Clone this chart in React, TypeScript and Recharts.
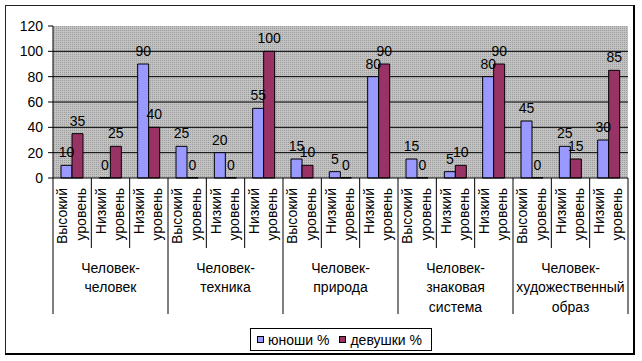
import React from 'react';
import { BarChart, Bar, XAxis, YAxis, CartesianGrid, LabelList, Legend } from 'recharts';

const groupLabels: string[][] = [
  ['Человек-', 'человек'],
  ['Человек-', 'техника'],
  ['Человек-', 'природа'],
  ['Человек-', 'знаковая', 'система'],
  ['Человек-', 'художественный', 'образ'],
];
const levelLabels: string[][] = [
  ['Высокий', 'уровень'],
  ['Низкий', 'уровень'],
  ['Низкий', 'уровень'],
];
const boys = [10, 0, 90, 25, 20, 55, 15, 5, 80, 15, 5, 80, 45, 25, 30];
const girls = [35, 25, 40, 0, 0, 100, 10, 0, 90, 0, 10, 90, 0, 15, 85];
const seriesNames = ['юноши %', 'девушки %'];
const yTicks = [0, 20, 40, 60, 80, 100, 120];
const gridValues = [20, 40, 60, 80, 100];

const W = 642;
const H = 361;
const MARGIN = { top: 26, right: 14, left: 0, bottom: 0 };
const Y_W = 53;
const X_H = 183;
const FONT = "Arial, 'Liberation Sans', sans-serif";

const data = boys.map((b, i) => {
  const g = Math.floor(i / levelLabels.length);
  const l = i % levelLabels.length;
  return { key: `c${i}`, group: g, level: l, boys: b, girls: girls[i] };
});
const N = data.length;
const BAND = (W - MARGIN.left - MARGIN.right - Y_W) / N;

const CategoryTick = (props: any) => {
  const { x, y, payload } = props;
  const i = payload.index;
  const d = data[i];
  const left = x - BAND / 2;
  const right = x + BAND / 2;
  const lines = levelLabels[d.level];
  const gl = groupLabels[d.group];
  return (
    <g>
      <line x1={left} y1={y} x2={left} y2={y + (d.level === 0 ? 136 : 70)} stroke="#000" strokeWidth={1} />
      {i === N - 1 && <line x1={right} y1={y} x2={right} y2={y + 136} stroke="#000" strokeWidth={1} />}
      <text
        transform={`translate(${x},${y + 10}) rotate(-90)`}
        textAnchor="end"
        fontSize={14}
        fontFamily={FONT}
        fill="#000"
      >
        <tspan x={0} y={-5}>{lines[0]}</tspan>
        <tspan x={0} y={13.5}>{lines[1]}</tspan>
      </text>
      {d.level === 1 && (
        <text textAnchor="middle" fontSize={14} fontFamily={FONT} fill="#000">
          {gl.map((t, k) => (
            <tspan key={k} x={x} y={y + 95 + k * 19.3}>{t}</tspan>
          ))}
        </text>
      )}
    </g>
  );
};

const ValueLabel = (props: any) => {
  const vb = props.viewBox || props;
  const x = Number(vb.x) + Number(vb.width) / 2;
  const y = Math.min(Number(vb.y), Number(vb.y) + Number(vb.height || 0));
  return (
    <text x={x} y={y - 8} textAnchor="middle" fontSize={14} fontFamily={FONT} fill="#000">
      {String(props.value)}
    </text>
  );
};

const zeroMin = (v: any) => (Number(v) === 0 ? 0.3 : 0);

const LegendContent = (props: any) => {
  const payload = [...(props.payload || [])].sort(
    (a: any, b: any) => seriesNames.indexOf(a.value) - seriesNames.indexOf(b.value)
  );
  return (
    <div
      style={{
        boxSizing: 'border-box',
        width: 182,
        height: 23,
        border: '1px solid #000',
        background: '#fff',
        display: 'flex',
        alignItems: 'center',
        paddingLeft: 6,
        fontFamily: FONT,
        fontSize: 14,
        color: '#000',
      }}
    >
      {payload.map((p: any, k: number) => (
        <div key={k} style={{ display: 'flex', alignItems: 'center', marginRight: k === 0 ? 10 : 0 }}>
          <span
            style={{
              display: 'inline-block',
              boxSizing: 'border-box',
              width: 7,
              height: 7,
              border: '1px solid #000',
              background: p.color,
              marginRight: 4,
            }}
          />
          <span style={{ lineHeight: '16px' }}>{p.value}</span>
        </div>
      ))}
    </div>
  );
};

export default function App() {
  return (
    <div style={{ position: 'absolute', left: 0, top: 0, width: W, height: H, background: '#fff' }}>
      <BarChart width={W} height={H} data={data} margin={MARGIN} barGap={0}>
        <defs>
          <pattern id="dots" width="2" height="2" patternUnits="userSpaceOnUse">
            <rect width="2" height="2" fill="#c2c2c2" />
            <rect width="1" height="1" fill="#9c9c9c" />
          </pattern>
        </defs>
        <CartesianGrid
          vertical={false}
          horizontalValues={gridValues}
          stroke="#000"
          strokeOpacity={1}
          fill="url(#dots)"
          fillOpacity={1}
        />
        <XAxis
          dataKey="key"
          interval={0}
          height={X_H}
          tickSize={0}
          tickMargin={0}
          tickLine={false}
          axisLine={{ stroke: '#000' }}
          tick={(p: any) => <CategoryTick {...p} />}
        />
        <YAxis
          domain={[0, 120]}
          ticks={yTicks}
          interval={0}
          width={Y_W}
          tickSize={5}
          tickMargin={5}
          axisLine={{ stroke: '#000' }}
          tickLine={{ stroke: '#000' }}
          tick={{ fill: '#000', fontSize: 14, fontFamily: FONT }}
        />
        <Legend
          layout="horizontal"
          verticalAlign="middle"
          align="center"
          wrapperStyle={{ left: 250, top: 328, width: 182, height: 23 }}
          content={(p: any) => <LegendContent {...p} />}
        />
        <Bar dataKey="boys" name={seriesNames[0]} fill="#9999FF" stroke="#000" strokeWidth={1} barSize={11} minPointSize={zeroMin} isAnimationActive={false}>
          <LabelList dataKey="boys" content={(p: any) => <ValueLabel {...p} />} />
        </Bar>
        <Bar dataKey="girls" name={seriesNames[1]} fill="#993366" stroke="#000" strokeWidth={1} barSize={11} minPointSize={zeroMin} isAnimationActive={false}>
          <LabelList dataKey="girls" content={(p: any) => <ValueLabel {...p} />} />
        </Bar>
      </BarChart>
      <div
        style={{
          position: 'absolute',
          left: 5,
          top: 5,
          width: 630,
          height: 350,
          boxSizing: 'border-box',
          borderLeft: '1px solid #222',
          borderTop: '1px solid #222',
          borderRight: '2px solid #000',
          borderBottom: '2px solid #000',
          pointerEvents: 'none',
        }}
      />
    </div>
  );
}
